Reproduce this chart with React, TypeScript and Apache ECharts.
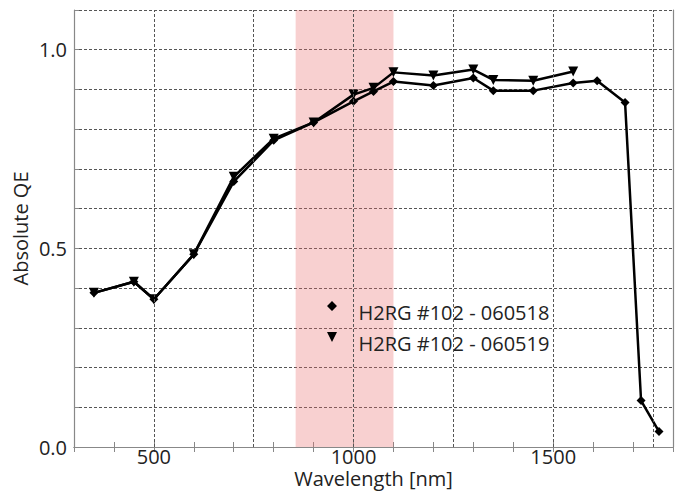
import React, { useEffect, useRef } from "react";
import * as echarts from "echarts";

const seriesNames = ["H2RG #102 - 060518", "H2RG #102 - 060519"];
const wavelengthA = [350, 450, 500, 600, 700, 800, 900, 1000, 1050, 1100, 1200, 1300, 1350, 1450, 1550, 1610, 1680, 1720, 1765];
const qeA = [0.388, 0.416, 0.372, 0.485, 0.668, 0.772, 0.817, 0.87, 0.895, 0.92, 0.91, 0.929, 0.897, 0.897, 0.916, 0.922, 0.867, 0.117, 0.039];
const wavelengthB = [350, 450, 500, 600, 700, 800, 900, 1000, 1050, 1100, 1200, 1300, 1350, 1450, 1550];
const qeB = [0.388, 0.416, 0.372, 0.485, 0.68, 0.776, 0.817, 0.887, 0.904, 0.943, 0.935, 0.95, 0.924, 0.922, 0.945];
const verticalGrid = [500, 750, 1000, 1250, 1500, 1750];
const bandRange = [855, 1100];
const xRange = [300, 1800];
const yRange = [0, 1.1];

const FONT = "Open Sans";

export default function App() {
  const ref = useRef<HTMLDivElement>(null);
  useEffect(() => {
    document.body.style.margin = "0";
    const chart = echarts.init(ref.current!, null, { renderer: "svg" });
    const pairs = (xs: number[], ys: number[]) => xs.map((x, i) => [x, ys[i]]);
    const axisCommon = {
      type: "value" as const,
      axisLine: { show: true, lineStyle: { color: "#888", width: 1.2 } },
      splitLine: { show: false },
    };
    chart.setOption({
      animation: false,
      backgroundColor: "#fff",
      textStyle: { fontFamily: FONT },
      grid: { left: 74, top: 10, right: 4, bottom: 47, containLabel: false, outerBoundsMode: "none" },
      legend: {
        orient: "vertical",
        left: 322,
        top: 296,
        itemWidth: 11,
        itemHeight: 22,
        itemGap: 9,
        data: [
          { name: seriesNames[0], icon: "path://M5,0 L10,5 L5,10 L0,5 Z M5,21.99 L5.01,22 L5,22 Z" },
          { name: seriesNames[1], icon: "path://M0,0 L10,0 L5,10 Z M5,21.99 L5.01,22 L5,22 Z" },
        ],
        textStyle: { fontFamily: FONT, fontSize: 20, color: "#222", padding: [0, 0, 0, 16], lineHeight: 22 },
      },
      xAxis: [
        {
          ...axisCommon,
          min: xRange[0],
          max: xRange[1],
          interval: 100,
          name: "Wavelength [nm]",
          nameLocation: "middle",
          nameGap: 21,
          nameMoveOverlap: false,
          nameTextStyle: { fontFamily: FONT, fontSize: 20, color: "#222", lineHeight: 20 },
          axisTick: { show: true, inside: true, length: 5, lineStyle: { color: "#888" } },
          axisLabel: {
            fontFamily: FONT,
            fontSize: 20,
            lineHeight: 18,
            color: "#222",
            margin: 0,
            formatter: (v: number) => (v % 500 === 0 ? String(v) : ""),
          },
        },
        {
          ...axisCommon,
          position: "top",
          min: xRange[0],
          max: xRange[1],
          interval: 100,
          axisTick: { show: true, inside: true, length: 5, lineStyle: { color: "#888" } },
          axisLabel: { show: false },
        },
      ],
      yAxis: [
        {
          ...axisCommon,
          min: yRange[0],
          max: yRange[1],
          interval: 0.1,
          name: "Absolute QE",
          nameLocation: "middle",
          nameGap: 44,
          nameMoveOverlap: false,
          nameTextStyle: { fontFamily: FONT, fontSize: 20, color: "#222" },
          axisTick: { show: true, inside: true, length: 5, lineStyle: { color: "#888" } },
          splitLine: { show: true, lineStyle: { color: "#555", type: [3, 2], width: 1 } },
          axisLabel: {
            fontFamily: FONT,
            fontSize: 20,
            color: "#222",
            margin: 7,
            formatter: (v: number) => (Math.abs(v * 2 - Math.round(v * 2)) < 1e-6 ? v.toFixed(1) : ""),
          },
        },
        {
          ...axisCommon,
          position: "right",
          min: yRange[0],
          max: yRange[1],
          interval: 0.1,
          axisTick: { show: false },
          axisLabel: { show: false },
        },
      ],
      series: [
        {
          name: "band",
          type: "line",
          data: [],
          silent: true,
          markArea: {
            silent: true,
            itemStyle: { color: "rgba(232, 110, 110, 0.32)" },
            data: [[{ xAxis: bandRange[0] }, { xAxis: bandRange[1] }]],
          },
          markLine: {
            silent: true,
            symbol: ["none", "none"],
            label: { show: false },
            lineStyle: { color: "#555", type: [3, 2], width: 1 },
            data: verticalGrid.map((v) => ({ xAxis: v })),
          },
        },
        {
          name: seriesNames[0],
          type: "line",
          data: pairs(wavelengthA, qeA),
          symbol: "diamond",
          symbolSize: 9,
          lineStyle: { color: "#000", width: 2.5 },
          itemStyle: { color: "#000" },
          z: 3,
        },
        {
          name: seriesNames[1],
          type: "line",
          data: pairs(wavelengthB, qeB),
          symbol: "triangle",
          symbolRotate: 180,
          symbolSize: 10,
          lineStyle: { color: "#000", width: 2.5 },
          itemStyle: { color: "#000" },
          z: 4,
        },
      ],
    });
    return () => chart.dispose();
  }, []);
  return <div ref={ref} style={{ position: "absolute", left: 0, top: 0, width: 677, height: 494 }} />;
}
